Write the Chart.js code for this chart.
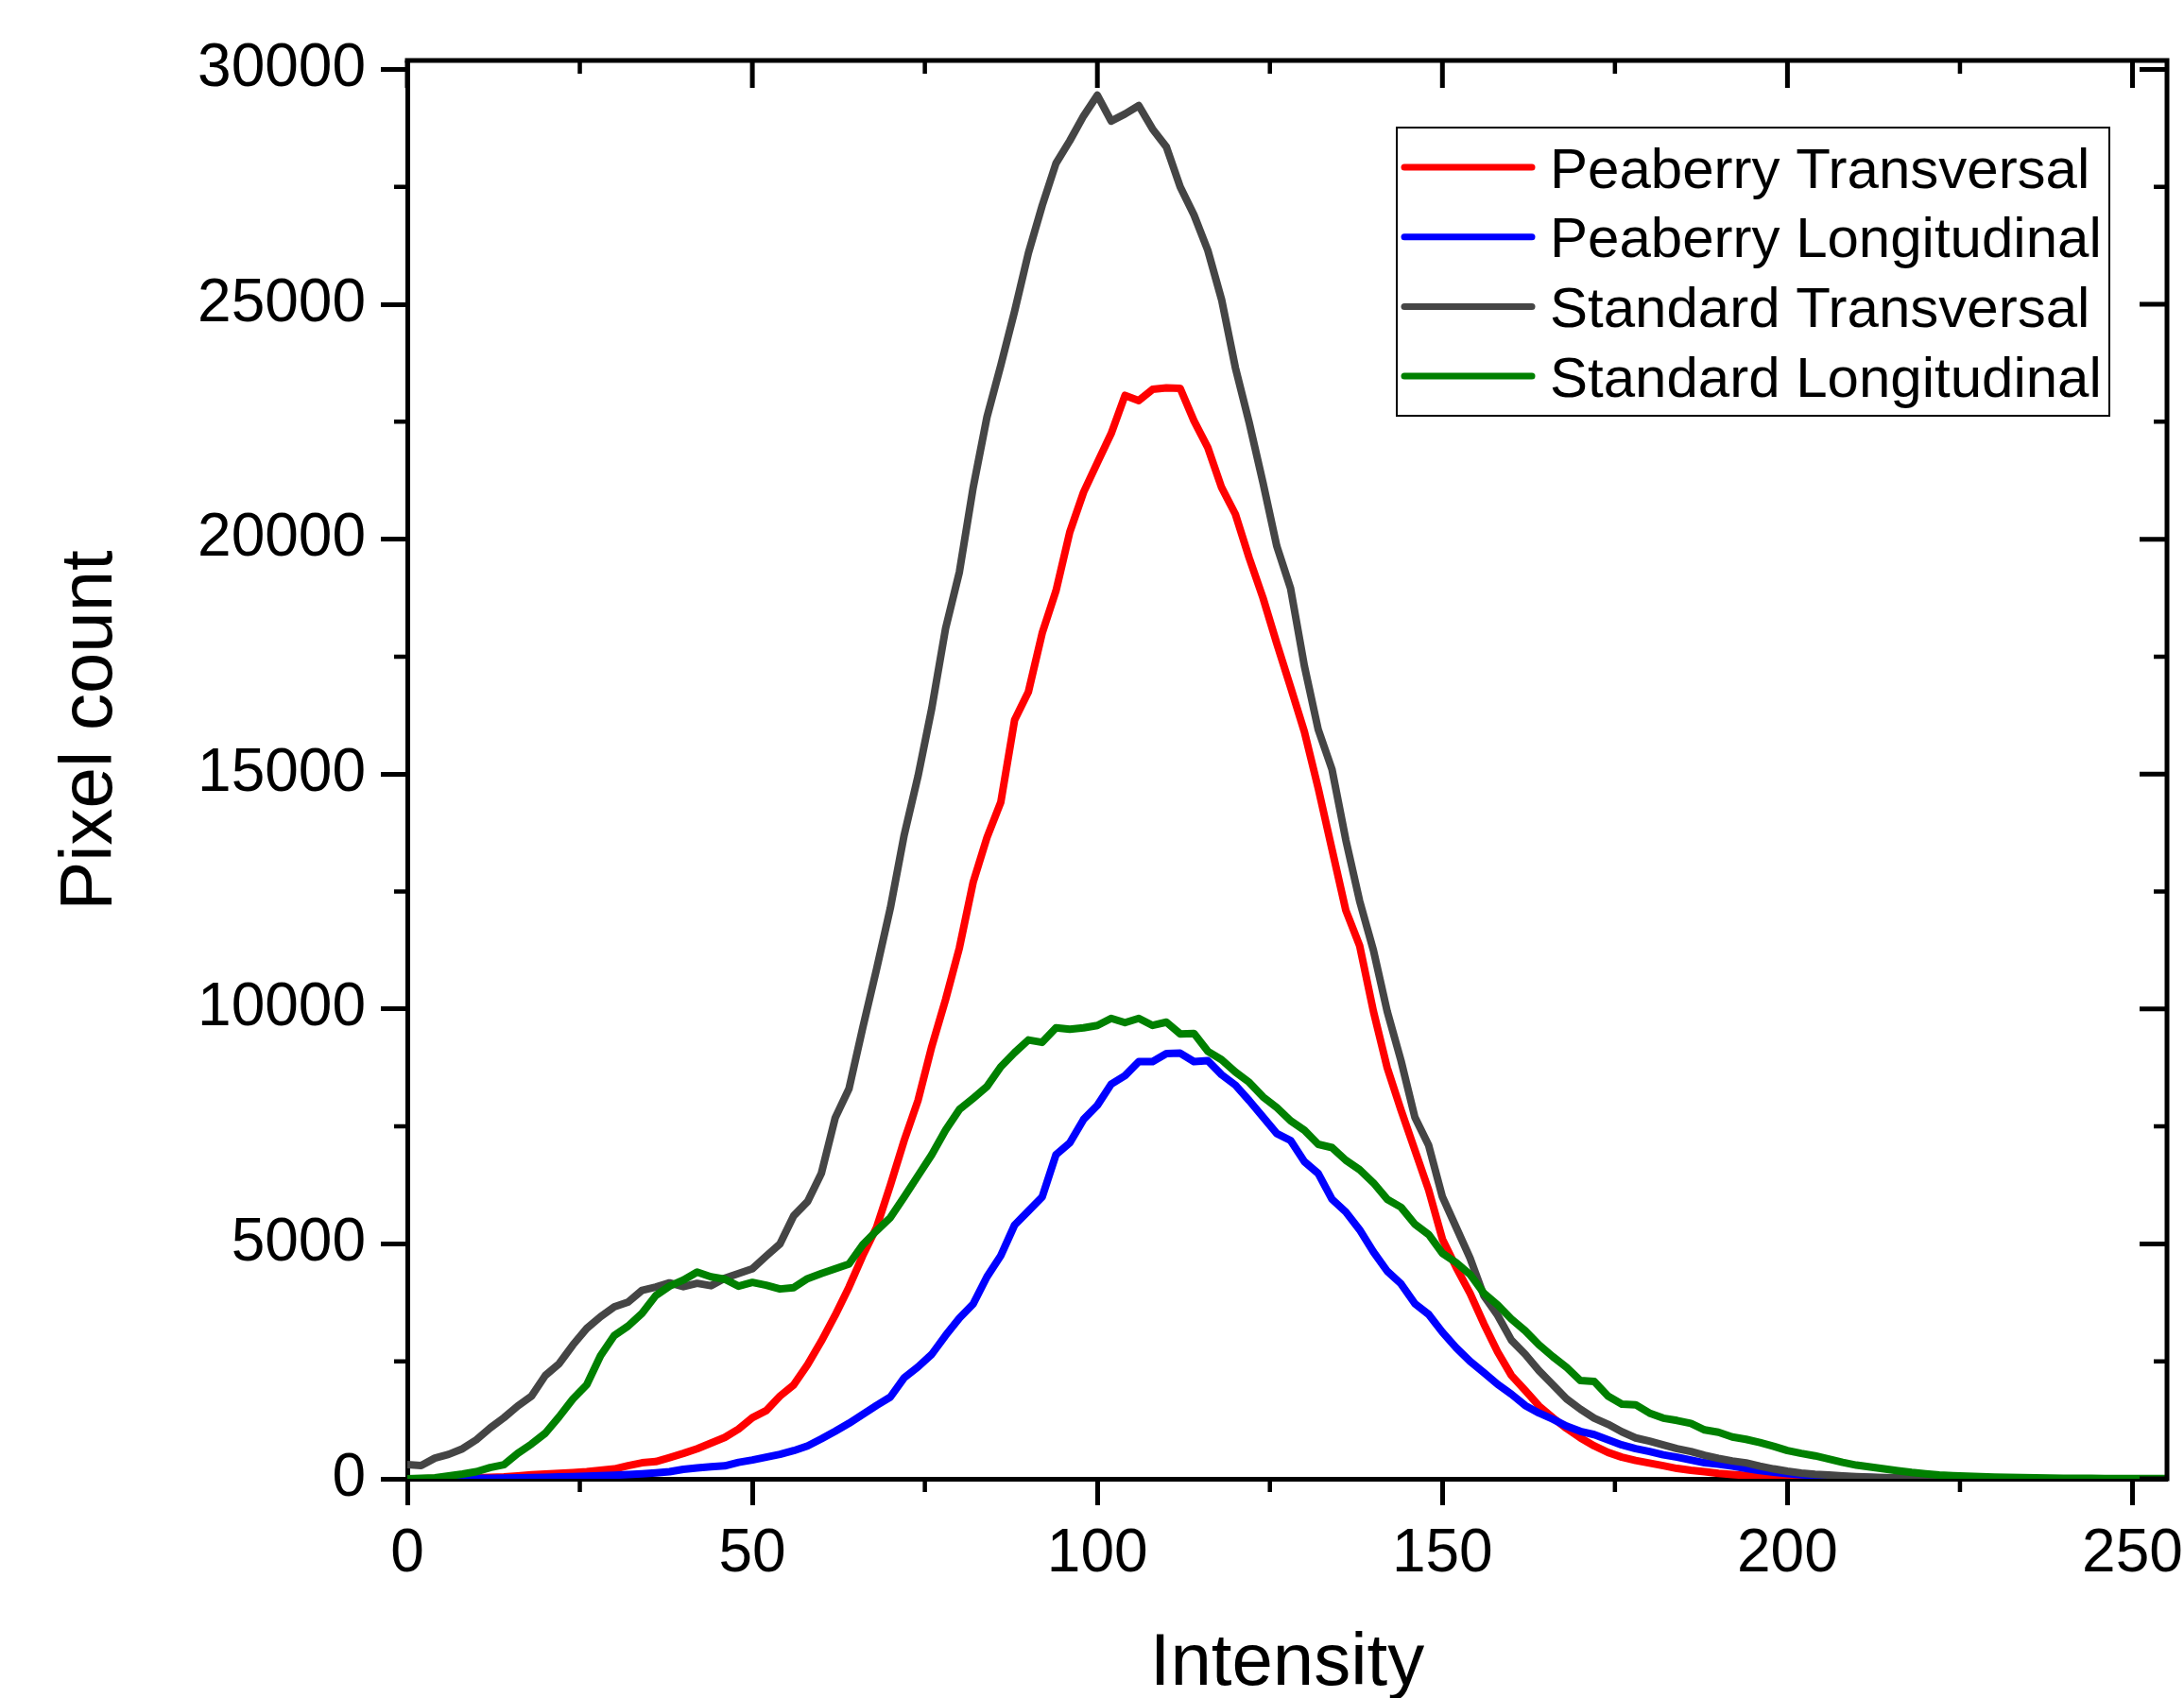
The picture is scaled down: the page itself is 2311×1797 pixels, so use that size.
<!DOCTYPE html>
<html><head><meta charset="utf-8">
<script src="https://cdn.jsdelivr.net/npm/chart.js@4.4.1/dist/chart.umd.min.js"></script>
<style>html,body{margin:0;padding:0;background:#fff}#wrap{width:2311px;height:1797px}</style>
</head><body><div id="wrap"><canvas id="c" width="2311" height="1797"></canvas></div>
<script>
const intensity = [0,2,4,6,8,10,12,14,16,18,20,22,24,26,28,30,32,34,36,38,40,42,44,46,48,50,52,54,56,58,60,62,64,66,68,70,72,74,76,78,80,82,84,86,88,90,92,94,96,98,100,102,104,106,108,110,112,114,116,118,120,122,124,126,128,130,132,134,136,138,140,142,144,146,148,150,152,154,156,158,160,162,164,166,168,170,172,174,176,178,180,182,184,186,188,190,192,194,196,198,200,202,204,206,208,210,212,214,216,218,220,222,224,226,228,230,232,234,236,238,240,242,244,246,248,250,252,254,255];

const peaberryTransversal = [0,0,5,10,15,20,30,40,60,85,100,115,130,150,180,210,280,340,365,450,540,640,760,880,1060,1300,1450,1760,2000,2430,2930,3480,4080,4750,5350,6250,7200,8050,9200,10200,11300,12700,13650,14400,16150,16750,18000,18900,20150,21000,21630,22250,23060,22950,23190,23220,23210,22520,21950,21100,20530,19600,18750,17780,16850,15900,14700,13400,12100,11350,9950,8750,7850,7000,6150,5100,4500,3950,3300,2700,2200,1880,1550,1300,1070,870,700,560,460,390,335,280,220,180,150,115,90,70,55,40,30,20,12,8,5,3,2,1,0,0,0,0,0,0,0,0,0,0,0,0,0,0,0,0,0,0,0,0,0];

const peaberryLongitudinal = [0,0,0,0,5,8,10,15,20,25,30,40,45,55,65,75,90,105,125,150,200,230,255,275,350,400,460,520,600,700,850,1010,1180,1370,1560,1740,2150,2380,2650,3050,3420,3720,4300,4750,5400,5700,6000,6900,7150,7650,7950,8400,8580,8880,8880,9050,9060,8880,8900,8600,8380,8050,7700,7350,7200,6750,6500,5950,5680,5300,4830,4420,4150,3730,3500,3120,2790,2500,2260,2010,1800,1560,1400,1270,1120,1010,940,830,720,640,580,510,460,400,340,310,270,220,175,140,110,85,70,55,45,35,25,15,10,5,0,0,0,0,0,0,0,0,0,0,0,0,0,0,0,0,0,0,0];

const standardTransversal = [300,280,440,520,640,830,1080,1300,1550,1760,2200,2450,2850,3200,3450,3660,3760,4010,4080,4170,4090,4160,4110,4270,4370,4470,4740,5000,5600,5900,6500,7680,8300,9600,10850,12150,13700,14950,16400,18100,19300,21100,22600,23700,24850,26090,27100,28000,28480,29010,29450,28900,29050,29230,28730,28350,27500,26900,26150,25100,23650,22480,21200,19850,18950,17300,15950,15100,13600,12300,11250,9950,8900,7700,7100,6000,5350,4700,3900,3480,2950,2650,2300,2000,1700,1480,1290,1160,1000,870,800,720,640,580,500,436,380,340,270,210,160,120,95,80,60,45,35,25,20,15,10,8,6,5,4,3,2,2,1,1,1,0,0,0,0,0,0,0,0];

const standardLongitudinal = [0,10,20,60,100,150,240,300,540,740,970,1320,1700,2000,2620,3050,3250,3520,3900,4100,4230,4400,4300,4250,4100,4180,4120,4040,4070,4260,4370,4470,4570,4980,5280,5560,6000,6450,6900,7420,7860,8100,8350,8770,9070,9340,9290,9600,9570,9600,9650,9800,9710,9800,9650,9720,9470,9480,9100,8920,8660,8440,8130,7900,7620,7420,7120,7050,6780,6580,6300,5950,5780,5420,5200,4800,4600,4350,3950,3700,3400,3150,2850,2600,2370,2090,2070,1760,1590,1576,1400,1290,1241,1180,1040,990,890,840,770,690,600,540,489,420,350,290,250,210,170,134,105,80,65,55,45,35,30,25,20,15,12,10,8,6,5,5,5,5,5];

const seriesNames = ['Peaberry Transversal','Peaberry Longitudinal','Standard Transversal','Standard Longitudinal'];
const seriesColors = ['#ff0000','#0000ff','#454545','#008000'];
const xTickValues = [0,50,100,150,200,250];
const xMinorValues = [25,75,125,175,225];
const yTickValues = [0,5000,10000,15000,20000,25000,30000];
const yMinorValues = [2500,7500,12500,17500,22500,27500];
const xTitle = 'Intensity';
const yTitle = 'Pixel count';

const FONT = '"Liberation Sans", Arial, Helvetica, sans-serif';

const seriesData = [peaberryTransversal, peaberryLongitudinal, standardTransversal, standardLongitudinal];

const decorPlugin = {
  id: 'decor',
  afterDraw(chart) {
    const {ctx, chartArea: a, scales} = chart;
    const x = scales.x, y = scales.y;
    ctx.save();
    ctx.strokeStyle = '#000';
    ctx.lineCap = 'butt';
    ctx.lineWidth = 5;
    ctx.beginPath();
    ctx.moveTo(a.left - 2.5, a.top);
    ctx.lineTo(a.right, a.top);
    ctx.lineTo(a.right, a.bottom + 2.5);
    ctx.stroke();
    ctx.beginPath();
    xTickValues.forEach(v => { const p = x.getPixelForValue(v); ctx.moveTo(p, a.top); ctx.lineTo(p, a.top + 29); });
    yTickValues.forEach(v => { const p = y.getPixelForValue(v); ctx.moveTo(a.right, p); ctx.lineTo(a.right - 29, p); });
    ctx.stroke();
    ctx.lineWidth = 4.5;
    ctx.beginPath();
    xMinorValues.forEach(v => {
      const p = x.getPixelForValue(v);
      ctx.moveTo(p, a.bottom); ctx.lineTo(p, a.bottom + 14);
      ctx.moveTo(p, a.top); ctx.lineTo(p, a.top + 14);
    });
    yMinorValues.forEach(v => {
      const p = y.getPixelForValue(v);
      ctx.moveTo(a.left, p); ctx.lineTo(a.left - 14, p);
      ctx.moveTo(a.right, p); ctx.lineTo(a.right - 14, p);
    });
    ctx.stroke();

    ctx.fillStyle = '#000';
    ctx.font = '78px ' + FONT;
    ctx.textAlign = 'center';
    ctx.textBaseline = 'alphabetic';
    ctx.fillText(xTitle, (a.left + a.right) / 2, 1783);
    ctx.save();
    ctx.translate(118, 773);
    ctx.rotate(-Math.PI / 2);
    ctx.fillText(yTitle, 0, 0);
    ctx.restore();

    const lx = 1478, ly = 135, lw = 754, lh = 305;
    ctx.fillStyle = '#fff';
    ctx.fillRect(lx, ly, lw, lh);
    ctx.lineWidth = 2;
    ctx.strokeStyle = '#000';
    ctx.strokeRect(lx, ly, lw, lh);
    ctx.font = '60px ' + FONT;
    ctx.textAlign = 'left';
    seriesNames.forEach((name, i) => {
      const yc = 177 + i * 73.7;
      ctx.strokeStyle = seriesColors[i];
      ctx.lineWidth = 7;
      ctx.lineCap = 'round';
      ctx.beginPath();
      ctx.moveTo(1486, yc); ctx.lineTo(1621, yc);
      ctx.stroke();
      ctx.fillStyle = '#000';
      ctx.fillText(name, 1640, yc + 21.5);
    });
    ctx.restore();
  }
};

const datasets = seriesNames.map((name, i) => ({
  label: name,
  data: intensity.map((v, k) => ({x: v, y: seriesData[i][k]})),
  borderColor: seriesColors[i],
  backgroundColor: seriesColors[i],
  borderWidth: 8,
  pointRadius: 0,
  tension: 0,
  fill: false,
  order: 4 - i,
  borderJoinStyle: 'round',
  borderCapStyle: 'round'
}));

new Chart(document.getElementById('c'), {
  type: 'line',
  data: { datasets },
  options: {
    responsive: false,
    animation: false,
    devicePixelRatio: 1,
    layout: { padding: { top: 64, right: 18, left: 0, bottom: 0 } },
    plugins: { legend: { display: false }, tooltip: { enabled: false } },
    scales: {
      x: {
        type: 'linear', min: 0, max: 255,
        afterBuildTicks: s => { s.ticks = xTickValues.map(v => ({ value: v })); },
        afterFit: s => { s.height = 232; s.paddingLeft = 0; s.paddingRight = 0; },
        grid: { display: true, drawOnChartArea: false, drawTicks: true, tickLength: 28, tickWidth: 5, tickColor: '#000' },
        border: { display: true, width: 5, color: '#000' },
        ticks: { font: { family: FONT, size: 64 }, color: '#000', padding: 14, maxRotation: 0, autoSkip: false, callback: v => String(v) }
      },
      y: {
        type: 'linear', min: 0, max: 30190,
        afterBuildTicks: s => { s.ticks = yTickValues.map(v => ({ value: v })); },
        afterFit: s => { s.width = 431; s.paddingTop = 0; s.paddingBottom = 0; },
        grid: { display: true, drawOnChartArea: false, drawTicks: true, tickLength: 28, tickWidth: 5, tickColor: '#000' },
        border: { display: true, width: 5, color: '#000' },
        ticks: { font: { family: FONT, size: 64 }, color: '#000', padding: 16, autoSkip: false, callback: v => String(v) }
      }
    }
  },
  plugins: [decorPlugin]
});
</script>
</body></html>
